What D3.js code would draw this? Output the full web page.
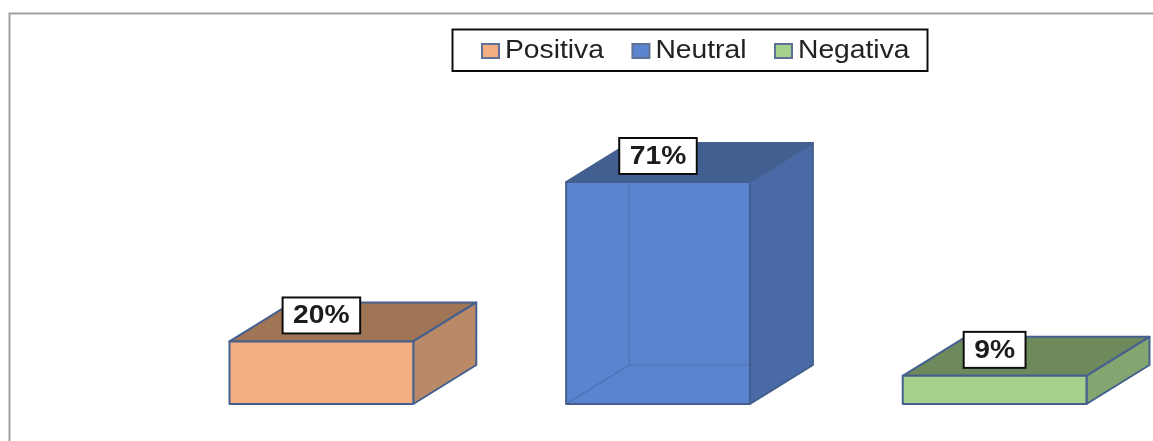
<!DOCTYPE html>
<html><head><meta charset="utf-8">
<script src="https://cdn.jsdelivr.net/npm/d3@7"></script>
<style>html,body{margin:0;padding:0;background:#fff}svg{display:block}text{font-family:"Liberation Sans",Arial,sans-serif}</style>
</head><body><svg id="c" width="1153" height="441"></svg>
<script>
const categories = ["Positiva","Neutral","Negativa"];
const values = [20,71,9];
const labels = ["20%","71%","9%"];
const frontColors = ["#f4ae82","#5a84cf","#a6d08c"];
const topColors = ["#a07556","#425f92","#6e8a5c"];
const sideColors = ["#ba8a67","#4a6ba6","#83a570"];
const seeThrough = [false,true,false];
const edge = "#44608f";
const svg = d3.select("#c");
const x = d3.scaleBand().domain(categories).range([229.5,1086.5]).paddingInner(0.454).paddingOuter(0);
const y = d3.scaleLinear().domain([0,71]).range([404,182]);
const dx = 63, dy = -39;
svg.append("defs").append("filter").attr("id","soft").append("feGaussianBlur").attr("stdDeviation",0.7);
const g = svg.append("g").attr("filter","url(#soft)");
g.append("path").attr("d","M9.5,441V13.5H1153").attr("fill","none").attr("stroke","#a0a0a0").attr("stroke-width",2);
const line = d3.line();
categories.forEach((c,i)=>{
  const x0=x(c),x1=x0+x.bandwidth(),yb=y(0),yt=y(values[i]);
  const b=g.append("g").attr("stroke",edge).attr("stroke-width",2).attr("stroke-linejoin","round");
  const poly=(pts,fill)=>b.append("path").attr("d",line(pts)+"Z").attr("fill",fill);
  poly([[x0,yt],[x0+dx,yt+dy],[x1+dx,yt+dy],[x1,yt]],topColors[i]);
  poly([[x1,yb],[x1+dx,yb+dy],[x1+dx,yt+dy],[x1,yt]],sideColors[i]);
  poly([[x0,yb],[x1,yb],[x1,yt],[x0,yt]],frontColors[i]);
  if(seeThrough[i]){
    b.append("path").attr("d",line([[x0+dx,yt+dy],[x0+dx,yb+dy],[x0,yb]])).attr("fill","none").attr("stroke-width",1.2).attr("stroke-opacity",.5);
    b.append("path").attr("d",line([[x0+dx,yb+dy],[x1+dx,yb+dy],[x1,yb]])).attr("fill","none").attr("stroke-width",1.2).attr("stroke-opacity",.5);
  }
  const cx=x0+x.bandwidth()/2;
  const t=g.append("text").attr("x",cx).attr("y",yt-18).attr("text-anchor","middle").attr("font-size",25).attr("font-weight","bold").attr("fill","#1a1a1a").text(labels[i]);
  const w=t.node().getComputedTextLength()*1.13;
  t.attr("textLength",w).attr("lengthAdjust","spacingAndGlyphs");
  const rw=w+21;
  g.append("rect").attr("x",cx-rw/2).attr("y",yt-44).attr("width",rw).attr("height",36).attr("fill","#fff").attr("stroke","#111").attr("stroke-width",2);
  t.raise();
});
g.append("rect").attr("x",452.5).attr("y",29.5).attr("width",475).attr("height",41.5).attr("fill","#fff").attr("stroke","#111").attr("stroke-width",2);
let lx=482;
categories.forEach((c,i)=>{
  g.append("rect").attr("x",lx).attr("y",44).attr("width",17).attr("height",14).attr("fill",frontColors[i]).attr("stroke","#5f7296").attr("stroke-width",2);
  const t=g.append("text").attr("x",lx+23).attr("y",58).attr("font-size",25).attr("fill","#222").text(c);
  const w=t.node().getComputedTextLength()*1.13;
  t.attr("textLength",w).attr("lengthAdjust","spacingAndGlyphs");
  lx+=23+w+28.5;
});
</script></body></html>
